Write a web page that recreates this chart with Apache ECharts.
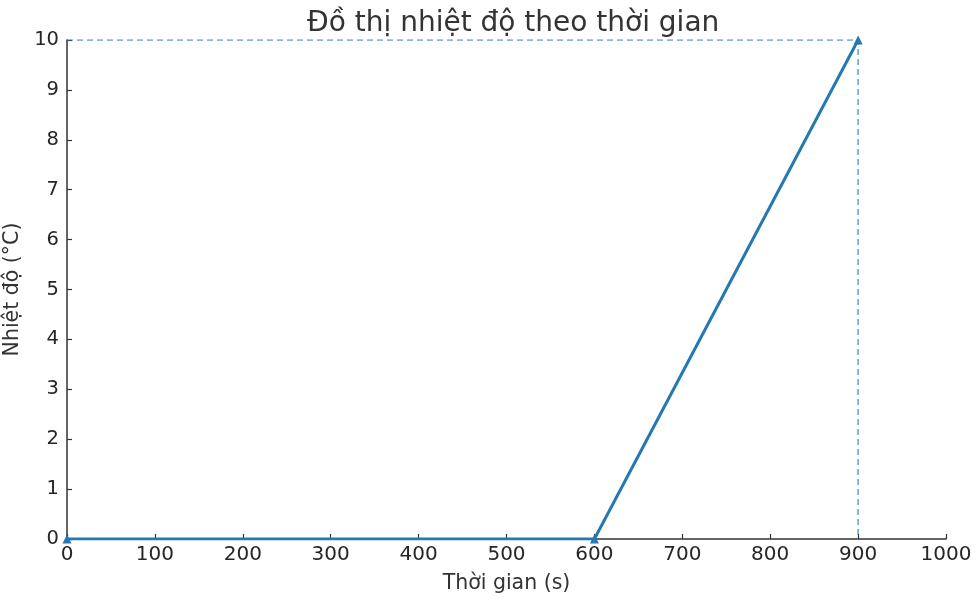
<!DOCTYPE html>
<html>
<head>
<meta charset="utf-8">
<script src="https://cdn.jsdelivr.net/npm/echarts@6/dist/echarts.min.js"></script>
<style>html,body{margin:0;padding:0;background:#fff}#c{width:977px;height:606px}</style>
</head>
<body>
<div id="c"></div>
<script>
var times = [0, 600, 900];
var temps = [0, 0, 10];
var guideTimes = [0, 900, 900];
var guideTemps = [10, 10, 0];
var xTicks = [0, 100, 200, 300, 400, 500, 600, 700, 800, 900, 1000];
var yTicks = [0, 1, 2, 3, 4, 5, 6, 7, 8, 9, 10];

var chart = echarts.init(document.getElementById('c'));
var font = 'DejaVu Sans';
chart.setOption({
  animation: false,
  title: {
    text: 'Đồ thị nhiệt độ theo thời gian',
    left: 302, top: 5,
    textStyle: {fontFamily: font, fontSize: 28, fontWeight: 'normal', color: '#333'}
  },
  grid: {left: 67, right: 31, top: 40, bottom: 67, outerBoundsMode: 'none', containLabel: false},
  xAxis: {
    type: 'value', min: 0, max: 1000, interval: 100,
    name: 'Thời gian (s)', nameLocation: 'middle', nameGap: 34,
    nameTextStyle: {fontFamily: font, fontSize: 20.5, color: '#333'},
    axisLine: {lineStyle: {color: '#333', width: 1.5}},
    axisTick: {inside: true, length: 5, lineStyle: {color: '#333', width: 1.2}},
    axisLabel: {fontFamily: font, fontSize: 20, color: '#262626', margin: 6,
      formatter: function (v) { return String(v); }},
    splitLine: {show: false}
  },
  yAxis: {
    type: 'value', min: 0, max: 10, interval: 1,
    name: 'Nhiệt độ (°C)', nameLocation: 'middle', nameGap: 39,
    nameTextStyle: {fontFamily: font, fontSize: 20.5, color: '#333'},
    axisLine: {show: true, lineStyle: {color: '#333', width: 1.5}},
    axisTick: {show: true, inside: true, length: 5, lineStyle: {color: '#333', width: 1.2}},
    axisLabel: {fontFamily: font, fontSize: 19.5, color: '#262626', margin: 8},
    splitLine: {show: false}
  },
  series: [
    {
      type: 'line',
      data: guideTimes.map(function (t, i) { return [t, guideTemps[i]]; }),
      showSymbol: false, symbol: 'none',
      lineStyle: {color: 'rgba(31,119,180,0.7)', width: 1.5, type: [6, 4]},
      z: 1
    },
    {
      type: 'line',
      data: times.map(function (t, i) { return [t, temps[i]]; }),
      symbol: 'triangle', symbolSize: 9,
      itemStyle: {color: '#2678b2'},
      lineStyle: {color: '#2678b2', width: 3},
      z: 2
    }
  ]
});
</script>
</body>
</html>
